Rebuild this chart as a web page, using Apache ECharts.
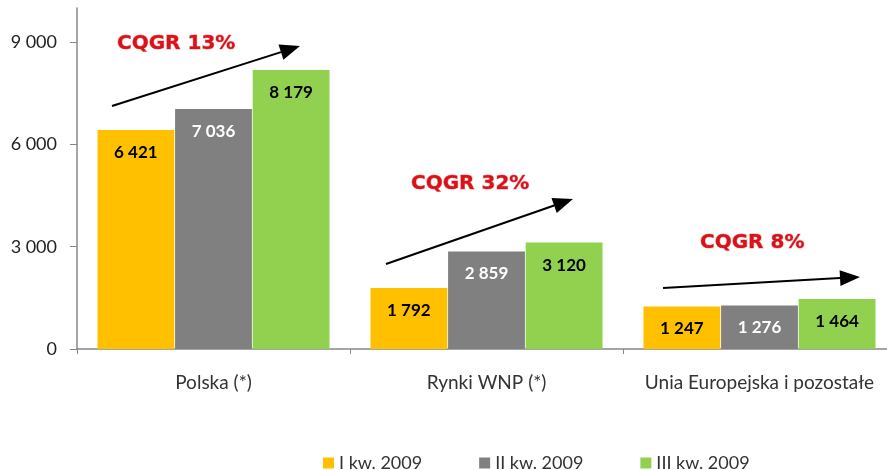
<!DOCTYPE html>
<html>
<head>
<meta charset="utf-8">
<script src="https://cdn.jsdelivr.net/npm/echarts@6/dist/echarts.min.js"></script>
<style>
  html, body { margin: 0; padding: 0; background: #fff; }
  #main { width: 887px; height: 470px; }
</style>
</head>
<body>
<div id="main"></div>
<script>
var categories = ['Polska (*)', 'Rynki WNP (*)', 'Unia Europejska i pozostałe'];
var q1 = [6421, 1792, 1247];
var q2 = [7036, 2859, 1276];
var q3 = [8179, 3120, 1464];
var seriesNames = ['I kw. 2009', 'II kw. 2009', 'III kw. 2009'];
var yTicks = [0, 3000, 6000, 9000];
var growthLabels = ['CQGR 13%', 'CQGR 32%', 'CQGR 8%'];

function fmt(v) {
    return String(v).replace(/\B(?=(\d{3})+(?!\d))/g, ' ');
}

var myChart = echarts.init(document.getElementById('main'));

function barSeries(name, data, color, labelColor) {
    return {
        name: name,
        type: 'bar',
        data: data,
        barGap: '1%',
        barCategoryGap: '15%',
        itemStyle: { color: color },
        label: {
            show: true,
            position: 'insideTop',
            distance: 14,
            color: labelColor,
            fontFamily: 'Lato',
            fontWeight: 'bold',
            fontSize: 17,
            formatter: function (p) { return fmt(p.value); }
        }
    };
}

function arrow(x1, y1, x2, y2) {
    var a = Math.atan2(y2 - y1, x2 - x1);
    var len = 20, half = 8;
    var bx = x2 - len * Math.cos(a), by = y2 - len * Math.sin(a);
    var px = -Math.sin(a) * half, py = Math.cos(a) * half;
    return [
        { type: 'line', shape: { x1: x1, y1: y1, x2: bx, y2: by }, style: { stroke: '#000', lineWidth: 2 } },
        { type: 'polygon', shape: { points: [[x2, y2], [bx + px, by + py], [bx - px, by - py]] }, style: { fill: '#000' } }
    ];
}

function growthText(x, y, t) {
    return {
        type: 'text', x: x, y: y,
        style: {
            text: t, fill: '#d9121a', font: 'bold 20px "DejaVu Sans"',
            stroke: '#f4a0a0', lineWidth: 1, textVerticalAlign: 'middle'
        }
    };
}

var graphics = [].concat(
    arrow(112, 106, 300, 46),
    arrow(386, 264, 573, 199),
    arrow(663, 288, 860, 277),
    [growthText(117, 44, growthLabels[0]), growthText(411, 184, growthLabels[1]), growthText(700, 243, growthLabels[2])]
);

var option = {
    animation: false,
    grid: { left: 77, width: 819, top: 8, bottom: 121, containLabel: false, outerBoundsMode: 'none' },
    legend: {
        top: 449,
        left: 318,
        itemWidth: 11,
        itemHeight: 11,
        itemGap: 57,
        icon: 'rect',
        textStyle: { fontFamily: 'Lato', fontSize: 18, color: '#333' },
        data: seriesNames
    },
    xAxis: {
        type: 'category',
        data: categories,
        axisLine: { lineStyle: { color: '#888', width: 1.5 } },
        axisTick: { show: true, length: 5, lineStyle: { color: '#888' } },
        axisLabel: { interval: 0, fontFamily: 'Lato', fontSize: 19, color: '#333', margin: 24 }
    },
    yAxis: {
        type: 'value',
        min: 0,
        max: 10000,
        interval: 3000,
        splitLine: { show: false },
        axisLine: { show: true, lineStyle: { color: '#888', width: 1.5 } },
        axisTick: { show: true, length: 7, customValues: yTicks, lineStyle: { color: '#888' } },
        axisLabel: {
            customValues: yTicks,
            fontFamily: 'Lato', fontSize: 18, color: '#222', margin: 20,
            formatter: function (v) { return fmt(v); }
        }
    },
    series: [
        barSeries(seriesNames[0], q1, '#ffc000', '#000'),
        barSeries(seriesNames[1], q2, '#808080', '#fff'),
        barSeries(seriesNames[2], q3, '#92d050', '#000')
    ],
    graphic: graphics
};

myChart.setOption(option);
</script>
</body>
</html>
